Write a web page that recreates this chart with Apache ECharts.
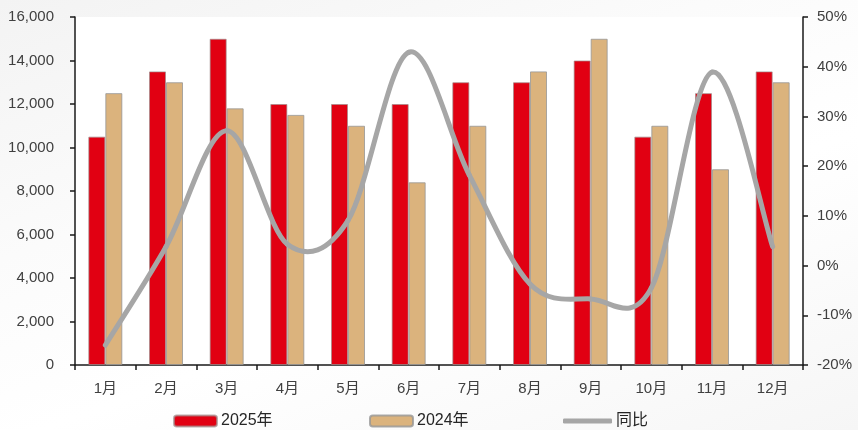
<!DOCTYPE html>
<html>
<head>
<meta charset="utf-8">
<script src="https://cdn.jsdelivr.net/npm/echarts@6/dist/echarts.min.js"></script>
<style>
  html, body { margin: 0; padding: 0; }
  body {
    width: 858px; height: 430px; overflow: hidden;
    background: linear-gradient(160deg, #f3f3f3 0%, #fbfbfb 35%, #ffffff 60%, #f6f6f6 100%);
  }
  #chart { width: 858px; height: 430px; }
</style>
</head>
<body>
<div id="chart"></div>
<script>
// Monthly volumes and year-on-year change
const months = ['1月', '2月', '3月', '4月', '5月', '6月', '7月', '8月', '9月', '10月', '11月', '12月'];
const values2025 = [10500, 13500, 15000, 12000, 12000, 12000, 13000, 13000, 14000, 10500, 12500, 13500];
const values2024 = [12500, 13000, 11800, 11500, 11000, 8400, 11000, 13500, 15000, 11000, 9000, 13000];
const yoyPct = [-16.0, 3.8, 27.1, 4.3, 9.1, 42.9, 18.2, -3.7, -6.7, -4.5, 38.9, 3.8];
const leftTicks = { min: 0, max: 16000, interval: 2000 };
const rightTicks = { min: -20, max: 50, interval: 10 };

const FONT = "'Liberation Sans', 'Noto Sans CJK SC', sans-serif";
const TEXT = '#404040';
const RED = '#e10012';
const TAN = '#dbb37d';
const GREY = '#a6a6a6';

const chart = echarts.init(document.getElementById('chart'), null, { renderer: 'canvas' });

const axisLineStyle = { show: true, lineStyle: { color: '#1a1a1a', width: 1.5 } };
const tickStyle = { show: true, length: 5, lineStyle: { color: '#1a1a1a', width: 1.5 } };
const legendBase = {
  top: 413,
  padding: 0,
  itemHeight: 11,
  itemWidth: 43,
  textStyle: { fontFamily: FONT, fontSize: 16, color: '#262626', padding: [0, 0, 0, -1] },
  selectedMode: false
};

// Smooth YoY curve: cubic Bezier segments through every point (Catmull-Rom tangents),
// positioned with the chart's own coordinate conversion.
function renderYoY(params, api) {
  if (params.dataIndex !== 0) return null;
  const pts = yoyPct.map((v, i) => api.coord([i, v]));
  const n = pts.length;
  const children = [];
  for (let i = 0; i < n - 1; i++) {
    const p0 = pts[Math.max(i - 1, 0)];
    const p1 = pts[i];
    const p2 = pts[i + 1];
    const p3 = pts[Math.min(i + 2, n - 1)];
    children.push({
      type: 'bezierCurve',
      shape: {
        x1: p1[0], y1: p1[1],
        x2: p2[0], y2: p2[1],
        cpx1: p1[0] + (p2[0] - p0[0]) / 6, cpy1: p1[1] + (p2[1] - p0[1]) / 6,
        cpx2: p2[0] - (p3[0] - p1[0]) / 6, cpy2: p2[1] - (p3[1] - p1[1]) / 6
      },
      style: { stroke: GREY, lineWidth: 5, fill: null, lineCap: 'round', lineJoin: 'round' }
    });
  }
  return { type: 'group', children };
}

chart.setOption({
  backgroundColor: 'transparent',
  animation: false,
  textStyle: { fontFamily: FONT },
  grid: {
    left: 75, right: 55, top: 17, bottom: 65,
    show: true, backgroundColor: '#ffffff', borderWidth: 0
  },
  legend: [
    Object.assign({}, legendBase, { left: 173, data: [{ name: '2025年' }] }),
    Object.assign({}, legendBase, { left: 369, data: [{ name: '2024年' }] }),
    Object.assign({}, legendBase, {
      left: 563, itemWidth: 49, itemHeight: 5,
      data: [{ name: '同比', icon: 'roundRect', itemStyle: { color: GREY } }]
    })
  ],
  xAxis: {
    type: 'category',
    data: months,
    axisLine: axisLineStyle,
    axisTick: tickStyle,
    axisLabel: { color: TEXT, fontSize: 15, margin: 16, fontFamily: FONT },
    splitLine: { show: false }
  },
  yAxis: [
    {
      type: 'value',
      min: leftTicks.min, max: leftTicks.max, interval: leftTicks.interval,
      axisLine: axisLineStyle,
      axisTick: tickStyle,
      axisLabel: {
        color: TEXT, fontSize: 15, margin: 21, fontFamily: FONT,
        formatter: v => v.toLocaleString('en-US')
      },
      splitLine: { show: false }
    },
    {
      type: 'value',
      position: 'right',
      min: rightTicks.min, max: rightTicks.max, interval: rightTicks.interval,
      axisLine: axisLineStyle,
      axisTick: tickStyle,
      axisLabel: { color: TEXT, fontSize: 15, margin: 14, fontFamily: FONT, formatter: '{value}%' },
      splitLine: { show: false }
    }
  ],
  series: [
    {
      name: '2025年',
      type: 'bar',
      data: values2025,
      barWidth: 17,
      barGap: '0%',
      itemStyle: { color: RED, borderColor: 'rgba(160,140,140,0.7)', borderWidth: 1 }
    },
    {
      name: '2024年',
      type: 'bar',
      data: values2024,
      barWidth: 17,
      barGap: '0%',
      itemStyle: { color: TAN, borderColor: 'rgba(150,150,150,0.8)', borderWidth: 1 }
    },
    {
      name: '同比',
      type: 'custom',
      yAxisIndex: 1,
      data: yoyPct.map((v, i) => [i, v]),
      encode: { x: 0, y: 1 },
      renderItem: renderYoY,
      z: 5,
      itemStyle: { color: GREY }
    }
  ]
});
</script>
</body>
</html>
